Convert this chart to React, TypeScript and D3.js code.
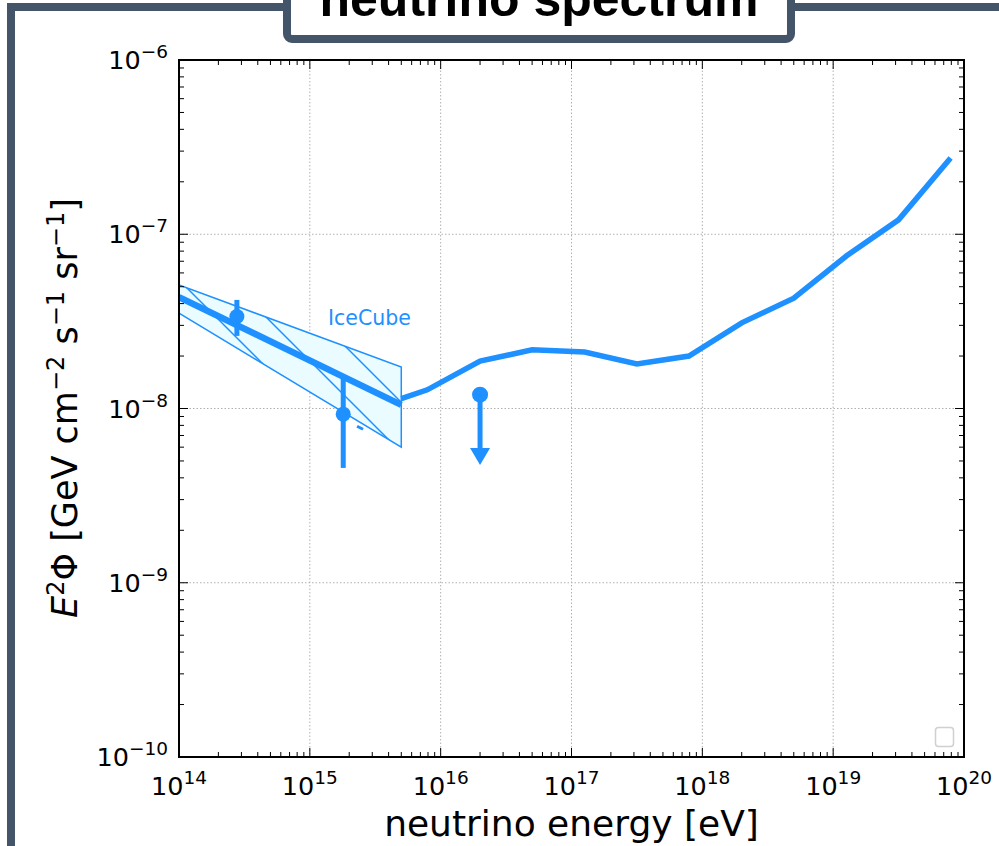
import React from "react";
import * as d3 from "d3";

// ---- data ----
const modelEnergy = [5e15, 7.9e15, 2e16, 5e16, 1.26e17, 3.16e17, 7.9e17, 2e18, 5e18, 1.26e19, 3.16e19, 7.9e19];
const modelFlux = [1.14e-8, 1.28e-8, 1.87e-8, 2.17e-8, 2.11e-8, 1.8e-8, 2.0e-8, 3.1e-8, 4.3e-8, 7.5e-8, 1.21e-7, 2.74e-7];

const fitEnergy = [1e14, 5e15];
const fitFlux = [4.36e-8, 1.05e-8];
const bandUpper = [5.12e-8, 1.73e-8];
const bandLower = [3.53e-8, 6.0e-9];

const pointEnergy = [2.77e14, 1.8e15];
const pointFlux = [3.37e-8, 9.28e-9];
const pointHigh = [4.2e-8, 1.5e-8];
const pointLow = [2.61e-8, 4.56e-9];

const limitEnergy = [2e16];
const limitFlux = [1.2e-8];
const limitTip = [4.74e-9];

const smallMarkEnergy = [2.42e15];
const smallMarkFlux = [7.7e-9];

const xTickExps = [14, 15, 16, 17, 18, 19, 20];
const yTickExps = [-10, -9, -8, -7, -6];

const title = "neutrino spectrum";
const xLabel = "neutrino energy [eV]";
const bandLabel = "IceCube";

const BLUE = "#1e90ff";
const FRAME = "#455569";

export default function App() {
  const left = 179, right = 964, top = 60, bottom = 757;
  const x = d3.scaleLog().domain([1e14, 1e20]).range([left, right]);
  const y = d3.scaleLog().domain([1e-10, 1e-6]).range([bottom, top]);

  const line = d3.line<[number, number]>().x((d) => x(d[0])).y((d) => y(d[1]));
  const modelPath = line(modelEnergy.map((e, i) => [e, modelFlux[i]]));
  const fitPath = line(fitEnergy.map((e, i) => [e, fitFlux[i]]));
  const bandPts: [number, number][] = [
    ...fitEnergy.map((e, i) => [e, bandUpper[i]] as [number, number]),
    ...fitEnergy.map((e, i) => [e, bandLower[i]] as [number, number]).reverse(),
  ];
  const bandPath = line(bandPts) + "Z";

  const xMinor: number[] = [];
  for (let p = 14; p < 20; p++) for (let k = 2; k <= 9; k++) xMinor.push(k * Math.pow(10, p));
  const yMinor: number[] = [];
  for (let p = -10; p < -6; p++) for (let k = 2; k <= 9; k++) yMinor.push(k * Math.pow(10, p));

  const font = "DejaVu Sans, sans-serif";

  return (
    <svg width={999} height={846} style={{ position: "absolute", left: 0, top: 0, background: "#fff" }}>
      <defs>
        <pattern id="hatch" patternUnits="userSpaceOnUse" x={-1} y={0} width={50} height={50}>
          <path d="M0,0 L50,50 M-5,45 L5,55 M45,-5 L55,5" stroke={BLUE} strokeWidth={1.5} />
        </pattern>
        <clipPath id="plotclip">
          <rect x={left} y={top} width={right - left} height={bottom - top} />
        </clipPath>
      </defs>

      {/* outer frame */}
      <rect x={11} y={7} width={1100} height={1000} fill="none" stroke={FRAME} strokeWidth={8} />

      {/* grid */}
      <g stroke="#b0b0b0" strokeWidth={1} strokeDasharray="1.5,2">
        {xTickExps.map((p) => (
          <line key={"gx" + p} x1={x(Math.pow(10, p))} x2={x(Math.pow(10, p))} y1={top} y2={bottom} />
        ))}
        {yTickExps.map((p) => (
          <line key={"gy" + p} x1={left} x2={right} y1={y(Math.pow(10, p))} y2={y(Math.pow(10, p))} />
        ))}
      </g>

      <g clipPath="url(#plotclip)">
        {/* IceCube band */}
        <path d={bandPath} fill="#eafcff" />
        <path d={bandPath} fill="url(#hatch)" />
        <path d={bandPath} fill="none" stroke={BLUE} strokeWidth={1.5} />
        <path d={fitPath || ""} fill="none" stroke={BLUE} strokeWidth={6.5} />

        {/* data points */}
        {pointEnergy.map((e, i) => (
          <g key={"pt" + i}>
            <line x1={x(e)} x2={x(e)} y1={y(pointHigh[i])} y2={y(pointLow[i])} stroke={BLUE} strokeWidth={5} />
            <circle cx={x(e)} cy={y(pointFlux[i])} r={7.5} fill={BLUE} />
          </g>
        ))}
        {smallMarkEnergy.map((e, i) => (
          <path
            key={"sm" + i}
            d={`M${x(e) - 3},${y(smallMarkFlux[i]) - 2} L${x(e) + 3},${y(smallMarkFlux[i]) + 1}`}
            stroke={BLUE}
            strokeWidth={3}
          />
        ))}
        {limitEnergy.map((e, i) => {
          const cx = x(e);
          const tip = y(limitTip[i]);
          return (
            <g key={"ul" + i}>
              <line x1={cx} x2={cx} y1={y(limitFlux[i])} y2={tip - 14} stroke={BLUE} strokeWidth={5} />
              <path d={`M${cx - 10},${tip - 17} L${cx + 10},${tip - 17} L${cx},${tip} Z`} fill={BLUE} />
              <circle cx={cx} cy={y(limitFlux[i])} r={8} fill={BLUE} />
            </g>
          );
        })}

        {/* model curve */}
        <path d={modelPath || ""} fill="none" stroke={BLUE} strokeWidth={5.5} />
      </g>

      <text x={328} y={325} fontFamily={font} fontSize={20.5} fill={BLUE}>
        {bandLabel}
      </text>

      {/* empty legend */}
      <rect x={935.5} y={727.5} width={18} height={19} rx={3} fill="#fff" stroke="#d0d0d0" strokeWidth={1.5} />

      {/* ticks */}
      <g stroke="#000" strokeWidth={1}>
        {xTickExps.map((p) => (
          <g key={"xt" + p}>
            <line x1={x(Math.pow(10, p))} x2={x(Math.pow(10, p))} y1={bottom} y2={bottom - 9} />
            <line x1={x(Math.pow(10, p))} x2={x(Math.pow(10, p))} y1={top} y2={top + 9} />
          </g>
        ))}
        {xMinor.map((v, i) => (
          <g key={"xm" + i}>
            <line x1={x(v)} x2={x(v)} y1={bottom} y2={bottom - 5} />
            <line x1={x(v)} x2={x(v)} y1={top} y2={top + 5} />
          </g>
        ))}
        {yTickExps.map((p) => (
          <g key={"yt" + p}>
            <line x1={left} x2={left + 9} y1={y(Math.pow(10, p))} y2={y(Math.pow(10, p))} />
            <line x1={right} x2={right - 9} y1={y(Math.pow(10, p))} y2={y(Math.pow(10, p))} />
          </g>
        ))}
        {yMinor.map((v, i) => (
          <g key={"ym" + i}>
            <line x1={left} x2={left + 5} y1={y(v)} y2={y(v)} />
            <line x1={right} x2={right - 5} y1={y(v)} y2={y(v)} />
          </g>
        ))}
      </g>

      {/* spines */}
      <rect x={left} y={top} width={right - left} height={bottom - top} fill="none" stroke="#000" strokeWidth={2} />

      {/* tick labels */}
      <g fontFamily={font} fill="#000">
        {xTickExps.map((p) => (
          <text key={"xl" + p} x={x(Math.pow(10, p))} y={795} textAnchor="middle" fontSize={25.5}>
            10
            <tspan fontSize={18.5} dy={-11}>
              {String(p)}
            </tspan>
          </text>
        ))}
        {yTickExps.map((p) => (
          <text key={"yl" + p} x={168} y={y(Math.pow(10, p)) + 9} textAnchor="end" fontSize={25.5}>
            10
            <tspan fontSize={18.5} dy={-11}>
              {"\u2212" + String(-p)}
            </tspan>
          </text>
        ))}
      </g>

      {/* axis labels */}
      <text x={571.5} y={836} textAnchor="middle" fontFamily={font} fontSize={36} fill="#000">
        {xLabel}
      </text>
      <text
        transform={`translate(77,408) rotate(-90)`}
        textAnchor="middle"
        fontFamily={font}
        fontSize={35}
        fill="#000"
      >
        <tspan fontStyle="italic">E</tspan>
        <tspan fontSize={24} dy={-13}>2</tspan>
        <tspan dy={13}>{"\u03A6 [GeV cm"}</tspan>
        <tspan fontSize={24} dy={-13}>{"\u22122"}</tspan>
        <tspan dy={13}>{" s"}</tspan>
        <tspan fontSize={24} dy={-13}>{"\u22121"}</tspan>
        <tspan dy={13}>{" sr"}</tspan>
        <tspan fontSize={24} dy={-13}>{"\u22121"}</tspan>
        <tspan dy={13}>{"]"}</tspan>
      </text>

      {/* title box */}
      <rect x={287} y={-20} width={504} height={59} rx={5} fill="#fff" stroke={FRAME} strokeWidth={8} />
      <text
        x={539}
        y={16}
        textAnchor="middle"
        fontFamily="Liberation Sans, Arial, sans-serif"
        fontWeight="bold"
        fontSize={50}
        fill="#000"
      >
        {title}
      </text>
    </svg>
  );
}
